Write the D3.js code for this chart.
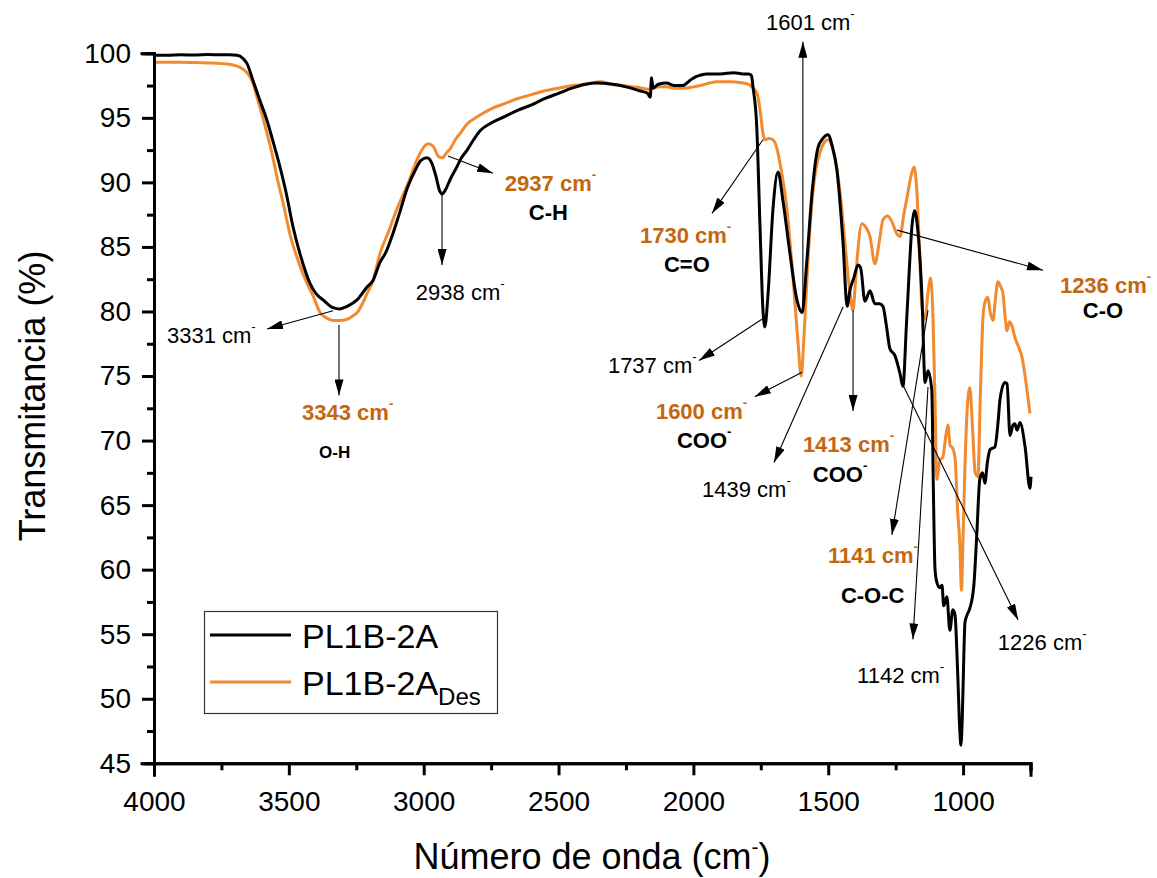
<!DOCTYPE html>
<html>
<head>
<meta charset="utf-8">
<script src="https://cdn.jsdelivr.net/npm/d3@7"></script>
<style>
  html, body { margin: 0; padding: 0; background: #fff; }
  svg { display: block; font-family: "Liberation Sans", Arial, sans-serif; }
</style>
</head>
<body>
<svg id="chart" width="1157" height="878"></svg>
<script>
// ---------- DATA ----------
const seriesNames = ["PL1B-2A", "PL1B-2A", "Des"];

// [wavenumber (cm-1), transmittance (%)]
const blackSeries = [
  [4000,99.85],[3950,99.85],[3900,99.88],[3850,99.86],[3800,99.9],[3750,99.88],[3720,99.88],[3692,99.85],
  [3670,99.6],[3655,99.2],[3633,97.9],[3610,96.5],[3581,94.8],[3555,92.9],[3533,91.2],[3510,89.2],
  [3485,86.6],[3455,84.2],[3422,82.2],[3400,81.4],[3373,80.9],[3336,80.3],[3310,80.2],[3284,80.4],
  [3247,80.9],[3210,81.9],[3188,82.4],[3162,83.8],[3140,84.6],[3118,85.8],[3090,87.6],[3060,89.6],
  [3030,91.0],[3010,91.7],[2988,91.9],[2970,91.5],[2955,90.5],[2940,89.3],[2932,89.1],[2920,89.4],
  [2900,90.3],[2877,91.2],[2860,91.9],[2839,92.5],[2815,93.3],[2791,94.0],[2750,94.6],[2700,95.1],
  [2650,95.6],[2600,96.0],[2550,96.5],[2500,96.9],[2450,97.3],[2400,97.6],[2360,97.7],[2300,97.6],
  [2250,97.4],[2200,97.1],[2170,96.9],[2160,96.6],[2155,98.1],[2150,97.3],[2130,97.6],[2100,97.7],
  [2070,97.5],[2040,97.5],[2013,97.9],[1990,98.2],[1975,98.3],[1950,98.4],[1900,98.4],[1850,98.5],
  [1816,98.4],[1795,98.4],[1785,98.3],[1779,97.4],[1765,94.3],[1753,86.6],[1742,80.1],[1735,78.8],
  [1723,81.4],[1705,87.9],[1686,90.8],[1668,88.6],[1642,84.5],[1616,80.9],[1597,79.9],[1579,84.0],
  [1560,89.2],[1538,92.7],[1520,93.4],[1501,93.7],[1485,92.8],[1468,91.0],[1445,85.3],[1430,80.4],
  [1419,81.7],[1405,82.6],[1390,83.6],[1380,83.4],[1364,80.8],[1345,81.6],[1327,80.6],[1310,80.6],
  [1297,80.4],[1285,79.0],[1271,77.1],[1253,76.6],[1234,75.2],[1223,74.2],[1210,79.0],[1200,83.0],
  [1190,86.5],[1180,87.8],[1167,86.1],[1152,80.9],[1141,74.5],[1130,75.4],[1116,73.9],[1110,66.0],
  [1104,60.0],[1097,59.0],[1086,58.6],[1078,58.8],[1072,57.2],[1060,57.9],[1049,55.3],[1038,56.9],
  [1030,56.5],[1020,52.0],[1012,47.5],[1008,46.4],[1003,48.5],[997,53.5],[993,55.9],[985,56.5],
  [975,57.0],[960,58.8],[949,62.8],[938,67.0],[928,67.5],[919,66.7],[910,68.3],[900,69.3],[882,69.5],
  [870,71.5],[863,73.2],[845,74.5],[837,74.4],[826,70.4],[815,71.2],[808,71.3],[800,70.8],[789,71.4],
  [770,69.5],[752,66.3],[748,67.2]
];

const orangeSeries = [
  [4000,99.3],[3950,99.3],[3900,99.3],[3850,99.28],[3800,99.25],[3750,99.2],[3707,99.1],[3680,98.9],
  [3655,98.5],[3635,97.8],[3618,96.6],[3600,95.3],[3581,93.8],[3560,92.0],[3544,90.4],[3520,88.3],
  [3496,86.0],[3465,83.9],[3433,82.2],[3410,81.2],[3384,79.9],[3360,79.5],[3336,79.3],[3314,79.3],
  [3284,79.4],[3260,79.7],[3247,79.9],[3225,80.7],[3210,81.4],[3188,82.4],[3162,84.5],[3130,86.2],
  [3100,87.9],[3077,89.0],[3051,90.3],[3030,91.5],[3010,92.4],[2984,93.0],[2965,92.8],[2945,92.0],
  [2932,91.9],[2915,92.3],[2902,92.6],[2880,93.4],[2865,93.8],[2840,94.5],[2800,95.1],[2750,95.7],
  [2700,96.1],[2650,96.5],[2600,96.8],[2550,97.1],[2500,97.3],[2450,97.5],[2400,97.6],[2346,97.8],
  [2300,97.6],[2260,97.5],[2224,97.4],[2190,97.3],[2161,97.2],[2155,97.7],[2150,97.3],[2130,97.4],
  [2100,97.4],[2070,97.3],[2039,97.3],[2000,97.4],[1975,97.5],[1940,97.7],[1912,97.8],[1870,97.8],
  [1816,97.7],[1795,97.6],[1783,97.4],[1764,96.9],[1752,95.5],[1742,93.8],[1735,93.3],[1720,93.4],
  [1705,93.3],[1690,92.6],[1679,91.5],[1653,87.9],[1631,82.7],[1612,77.6],[1600,75.0],[1590,78.0],
  [1575,84.0],[1557,89.2],[1531,92.3],[1501,93.3],[1482,92.5],[1456,89.2],[1438,85.3],[1419,81.4],
  [1408,80.1],[1400,82.0],[1393,84.0],[1375,86.8],[1360,86.5],[1345,85.8],[1327,83.7],[1310,85.5],
  [1297,87.1],[1280,87.4],[1265,87.0],[1245,86.0],[1234,85.8],[1220,87.5],[1208,88.8],[1195,90.3],
  [1182,91.2],[1172,89.5],[1163,85.5],[1152,80.2],[1141,79.4],[1130,81.5],[1120,82.6],[1112,79.8],
  [1104,73.0],[1097,67.0],[1086,68.5],[1075,68.7],[1065,70.2],[1056,71.2],[1048,69.6],[1041,69.5],
  [1030,68.7],[1020,64.5],[1012,62.0],[1006,58.4],[1000,62.5],[993,68.0],[985,72.3],[975,74.1],
  [965,71.0],[955,67.5],[945,67.2],[936,73.5],[926,79.6],[918,80.8],[908,81.1],[900,80.0],[889,79.3],
  [880,81.0],[871,82.3],[860,81.9],[852,81.4],[845,79.8],[837,78.5],[828,79.2],[819,78.9],[808,78.0],
  [795,77.3],[782,76.5],[770,75.0],[760,73.4],[752,72.1]
];

const xMajorTicks = [4000, 3500, 3000, 2500, 2000, 1500, 1000];
const xMinorTicks = [3750, 3250, 2750, 2250, 1750, 1250, 750];
const yMajorTicks = [45, 50, 55, 60, 65, 70, 75, 80, 85, 90, 95, 100];
const yMinorTicks = [47.5, 52.5, 57.5, 62.5, 67.5, 72.5, 77.5, 82.5, 87.5, 92.5, 97.5];

// arrows: [fromWn, fromT, toWn, toT] (data units)
const arrows = [
  [1594, 79.9, 1594, 100.9],
  [2932, 89.0, 2932, 83.6],
  [2910, 92.05, 2743, 90.7],
  [3336, 80.05, 3581, 78.65],
  [3314, 78.95, 3314, 73.5],
  [1742, 93.3, 1931, 87.6],
  [1746, 79.4, 1979, 76.2],
  [1597, 75.3, 1772, 73.4],
  [1445, 80.35, 1701, 68.3],
  [1408, 80.1, 1408, 72.3],
  [1245, 86.3, 704, 83.2],
  [1130, 80.1, 1264, 62.7],
  [1130, 74.15, 1186, 54.6],
  [1223, 74.3, 796, 56.1]
];

// labels: [main text, superscript, wn (left), T (baseline), kind]
const labels = [
  ["1601 cm", "-", 1731, 101.8, "plain"],
  ["2938 cm", "-", 3029, 80.9, "plain"],
  ["2937 cm", "-", 2699, 89.35, "peak"],
  ["C-H", "", 2610, 87.1, "group"],
  ["3331 cm", "-", 3952, 77.55, "plain"],
  ["3343 cm", "-", 3451, 71.6, "peak"],
  ["O-H", "", 3388, 68.65, "groupSmall"],
  ["1730 cm", "-", 2198, 85.3, "peak"],
  ["C=O", "", 2109, 83.05, "group"],
  ["1737 cm", "-", 2317, 75.2, "plain"],
  ["1600 cm", "-", 2139, 71.65, "peak"],
  ["COO", "-", 2061, 69.45, "group"],
  ["1439 cm", "-", 1968, 65.6, "plain"],
  ["1413 cm", "-", 1594, 69.1, "peak"],
  ["COO", "-", 1557, 66.8, "group"],
  ["1236 cm", "-", 641, 81.45, "peak"],
  ["C-O", "", 556, 79.5, "group"],
  ["1141 cm", "-", 1501, 60.5, "peak"],
  ["C-O-C", "", 1453, 57.45, "group"],
  ["1142 cm", "-", 1393, 51.2, "plain"],
  ["1226 cm", "-", 871, 53.8, "plain"]
];

// ---------- CHART ----------
const BLACK = "#000000", ORANGE = "#F28A30", ORANGE_TXT = "#C4660F";
const svg = d3.select("#chart");
const x = d3.scaleLinear().domain([4000, 750]).range([154, 1030.5]);
const y = d3.scaleLinear().domain([45, 100]).range([763.3, 53.3]);

const defs = svg.append("defs");
defs.append("marker").attr("id", "ah")
  .attr("viewBox", "0 0 16 9").attr("refX", 16).attr("refY", 4.5)
  .attr("markerWidth", 16).attr("markerHeight", 9)
  .attr("markerUnits", "userSpaceOnUse").attr("orient", "auto")
  .append("path").attr("d", "M0,0 L16,4.5 L0,9 Z").attr("fill", "#000");

// Lines
const line = d3.line().x(d => x(d[0])).y(d => y(d[1])).curve(d3.curveMonotoneX);
svg.append("path").datum(orangeSeries).attr("d", line)
  .attr("fill", "none").attr("stroke", ORANGE).attr("stroke-width", 3).attr("stroke-linejoin", "round");
svg.append("path").datum(blackSeries).attr("d", line)
  .attr("fill", "none").attr("stroke", BLACK).attr("stroke-width", 3).attr("stroke-linejoin", "round");

// Axes
function styleAxis(g) {
  g.select(".domain").attr("stroke-width", 3).attr("stroke", "#000");
  g.selectAll(".tick line").attr("stroke-width", 3).attr("stroke", "#000");
  g.selectAll("text").attr("font-size", 28).attr("fill", "#000")
    .attr("font-family", "Liberation Sans, Arial, sans-serif");
}
const yAxisMinor = svg.append("g").attr("transform", "translate(154,0)")
  .call(d3.axisLeft(y).tickValues(yMinorTicks).tickSize(7).tickFormat(""));
styleAxis(yAxisMinor);
const yAxis = svg.append("g").attr("transform", "translate(154,0)")
  .call(d3.axisLeft(y).tickValues(yMajorTicks).tickSize(12).tickPadding(11).tickFormat(d3.format("d")));
styleAxis(yAxis);

const xAxisMinor = svg.append("g").attr("transform", "translate(0,763.3)")
  .call(d3.axisBottom(x).tickValues(xMinorTicks).tickSize(7).tickFormat(""));
styleAxis(xAxisMinor);
const xAxis = svg.append("g").attr("transform", "translate(0,763.3)")
  .call(d3.axisBottom(x).tickValues(xMajorTicks).tickSize(12).tickPadding(16).tickFormat(d3.format("d")));
styleAxis(xAxis);
svg.selectAll(".domain").attr("stroke-linecap", "square");

// Axis titles
const xt = svg.append("text").attr("x", 592).attr("y", 869).attr("text-anchor", "middle")
  .attr("font-size", 36).attr("fill", "#000");
xt.append("tspan").text("Número de onda (cm");
xt.append("tspan").attr("font-size", 21).attr("dy", -15).text("-");
xt.append("tspan").attr("dy", 15).text(")");

svg.append("text").attr("transform", "translate(45,396) rotate(-90)")
  .attr("text-anchor", "middle").attr("font-size", 36).attr("fill", "#000")
  .text("Transmitancia (%)");

// Arrows
svg.append("g").selectAll("line").data(arrows).join("line")
  .attr("x1", d => x(d[0])).attr("y1", d => y(d[1]))
  .attr("x2", d => x(d[2])).attr("y2", d => y(d[3]))
  .attr("stroke", "#000").attr("stroke-width", 1.1)
  .attr("marker-end", "url(#ah)");

// Labels
const kindStyle = {
  plain: { size: 22, weight: "normal", color: "#000" },
  peak: { size: 22, weight: "bold", color: ORANGE_TXT },
  group: { size: 22, weight: "bold", color: "#000" },
  groupSmall: { size: 17, weight: "bold", color: "#000" }
};
const lg = svg.append("g");
labels.forEach(l => {
  const st = kindStyle[l[4]];
  const t = lg.append("text").attr("x", x(l[2])).attr("y", y(l[3]))
    .attr("font-size", st.size).attr("font-weight", st.weight).attr("fill", st.color);
  t.append("tspan").text(l[0]);
  if (l[1]) t.append("tspan").attr("font-size", st.size * 0.6).attr("dy", -st.size * 0.55).text(l[1]);
});

// Legend
const leg = svg.append("g");
leg.append("rect").attr("x", 204.5).attr("y", 611.5).attr("width", 293).attr("height", 102)
  .attr("fill", "#fff").attr("stroke", "#333").attr("stroke-width", 1.2);
leg.append("line").attr("x1", 210).attr("x2", 291).attr("y1", 635).attr("y2", 635)
  .attr("stroke", BLACK).attr("stroke-width", 3);
leg.append("line").attr("x1", 210).attr("x2", 291).attr("y1", 682).attr("y2", 682)
  .attr("stroke", ORANGE).attr("stroke-width", 3);
leg.append("text").attr("x", 302).attr("y", 648).attr("font-size", 34).attr("fill", "#000").text(seriesNames[0]);
const l2 = leg.append("text").attr("x", 302).attr("y", 695).attr("font-size", 34).attr("fill", "#000");
l2.append("tspan").text(seriesNames[1]);
l2.append("tspan").attr("font-size", 24).attr("dy", 10).text(seriesNames[2]);
</script>
</body>
</html>
